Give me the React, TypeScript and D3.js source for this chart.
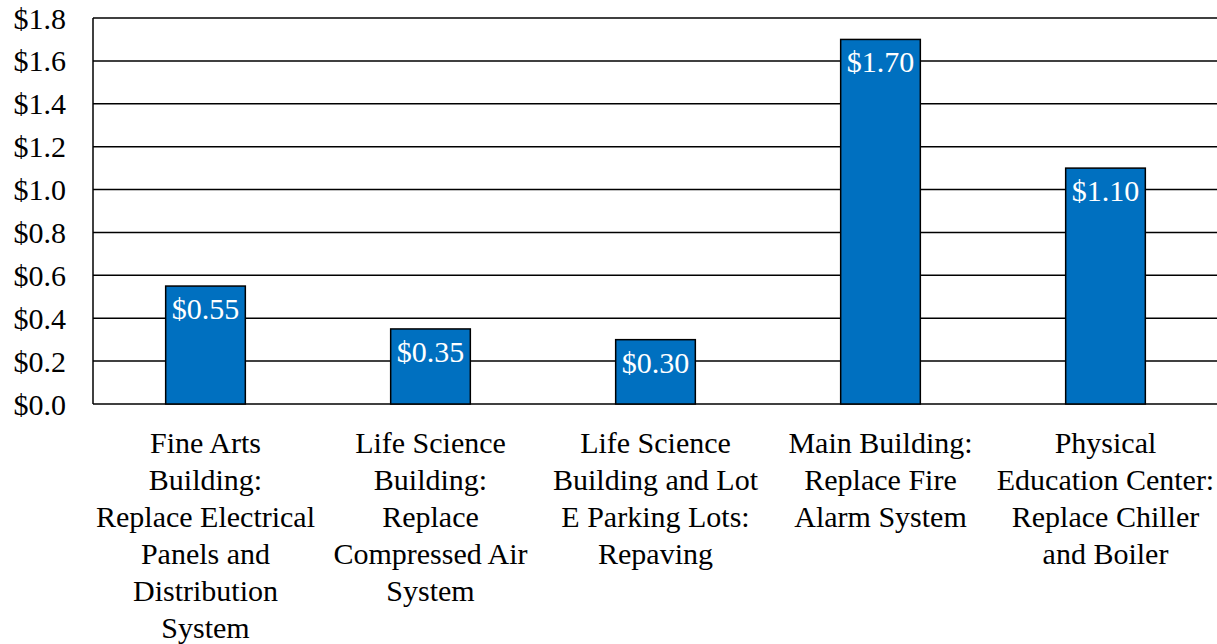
import React from 'react';
import * as d3 from 'd3';

// chart data
const categories = ['fineArts', 'lifeScience', 'lifeScienceLots', 'mainBuilding', 'peCenter'];
const categoryLabels = [
  ['Fine Arts', 'Building:', 'Replace Electrical', 'Panels and', 'Distribution', 'System'],
  ['Life Science', 'Building:', 'Replace', 'Compressed Air', 'System'],
  ['Life Science', 'Building and Lot', 'E Parking Lots:', 'Repaving'],
  ['Main Building:', 'Replace Fire', 'Alarm System'],
  ['Physical', 'Education Center:', 'Replace Chiller', 'and Boiler']
];
const costs = [0.55, 0.35, 0.3, 1.7, 1.1];
const costLabels = ['$0.55', '$0.35', '$0.30', '$1.70', '$1.10'];
const yTicks = [0, 0.2, 0.4, 0.6, 0.8, 1.0, 1.2, 1.4, 1.6, 1.8];

const width = 1217;
const height = 644;
const margin = { top: 18, right: 0, bottom: 240, left: 93 };
const font = '"Liberation Serif", "Times New Roman", serif';

export default function App() {
  const x = d3
    .scaleBand<string>()
    .domain(categories)
    .range([margin.left, width + 1])
    .paddingInner(0.646)
    .paddingOuter(0.323);

  const y = d3
    .scaleLinear()
    .domain([0, 1.8])
    .range([height - margin.bottom, margin.top]);

  const fmt = d3.format('.1f');
  const cx = (c: string) => (x(c) || 0) + x.bandwidth() / 2;

  return (
    <div style={{ position: 'absolute', left: 0, top: 0 }}>
      <svg width={width} height={height} style={{ display: 'block', background: '#fff' }}>
        {/* gridlines */}
        {yTicks.map(t => (
          <line
            key={t}
            x1={margin.left}
            x2={width}
            y1={y(t)}
            y2={y(t)}
            stroke="#000"
            strokeWidth={1.5}
          />
        ))}
        {/* y axis line */}
        <line
          x1={margin.left}
          x2={margin.left}
          y1={y(1.8)}
          y2={y(0)}
          stroke="#000"
          strokeWidth={1.5}
        />
        {/* tick labels */}
        {yTicks.map(t => (
          <text
            key={'l' + t}
            x={66}
            y={y(t)}
            dy="0.35em"
            textAnchor="end"
            fontFamily={font}
            fontSize={30}
            fill="#000"
          >
            {'$' + fmt(t)}
          </text>
        ))}
        {/* bars */}
        {categories.map((c, i) => (
          <g key={c}>
            <rect
              x={x(c)}
              y={y(costs[i])}
              width={x.bandwidth()}
              height={y(0) - y(costs[i])}
              fill="#0070C0"
              stroke="#000"
              strokeWidth={1.5}
            />
            <text
              x={cx(c)}
              y={y(costs[i]) + 33}
              textAnchor="middle"
              fontFamily={font}
              fontSize={30}
              fill="#fff"
            >
              {costLabels[i]}
            </text>
          </g>
        ))}
        {/* category labels */}
        {categories.map((c, i) => (
          <text
            key={'c' + c}
            x={cx(c)}
            y={453}
            textAnchor="middle"
            fontFamily={font}
            fontSize={30}
            fill="#000"
          >
            {categoryLabels[i].map((line, j) => (
              <tspan key={j} x={cx(c)} dy={j === 0 ? 0 : 37}>
                {line}
              </tspan>
            ))}
          </text>
        ))}
      </svg>
    </div>
  );
}
